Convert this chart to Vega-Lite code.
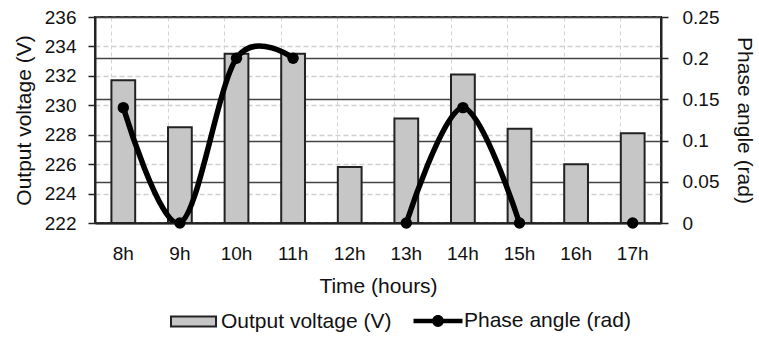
{
  "$schema": "https://vega.github.io/schema/vega-lite/v6.json",
  "autosize": {"type": "none"},
  "width": 566,
  "height": 206,
  "padding": {"left": 95, "top": 17, "right": 98, "bottom": 115},
  "background": "white",
  "config": {
    "font": "Liberation Sans",
    "view": {"stroke": "#222", "strokeWidth": 2},
    "axis": {"labelFont": "Liberation Sans", "titleFont": "Liberation Sans", "labelFontSize": 19, "titleFontSize": 21, "titleFontWeight": "normal", "labelColor": "#111", "titleColor": "#111", "domainColor": "#222", "domainWidth": 2, "tickColor": "#222", "tickWidth": 1.5},
    "legend": {"padding": 0, "labelFont": "Liberation Sans", "labelFontSize": 21, "labelColor": "#111", "labelLimit": 400}
  },
  "data": {"values": [
    {"hour": "8h", "voltage": 231.7, "phase": 0.14, "seg": "A"},
    {"hour": "9h", "voltage": 228.5, "phase": 0, "seg": "A"},
    {"hour": "10h", "voltage": 233.5, "phase": 0.2, "seg": "A"},
    {"hour": "11h", "voltage": 233.5, "phase": 0.2, "seg": "A"},
    {"hour": "12h", "voltage": 225.8, "phase": null, "seg": "A"},
    {"hour": "13h", "voltage": 229.1, "phase": 0, "seg": "B"},
    {"hour": "14h", "voltage": 232.1, "phase": 0.14, "seg": "B"},
    {"hour": "15h", "voltage": 228.4, "phase": 0, "seg": "B"},
    {"hour": "16h", "voltage": 226.0, "phase": null, "seg": "B"},
    {"hour": "17h", "voltage": 228.1, "phase": 0, "seg": "C"}
  ]},
  "encoding": {
    "x": {"field": "hour", "type": "nominal", "sort": null,
      "scale": {"paddingInner": 0.58, "paddingOuter": 0.29},
      "axis": {"title": "Time (hours)", "labelAngle": 0, "ticks": false, "labelPadding": 21, "titlePadding": 12,
        "grid": true, "gridColor": "#d4d4d4", "gridDash": [4, 3], "bandPosition": 0}}
  },
  "layer": [
    {
      "mark": {"type": "bar", "fill": "#c6c6c6", "stroke": "#222", "strokeWidth": 2},
      "encoding": {
        "y": {"field": "voltage", "type": "quantitative",
          "scale": {"domain": [222, 236], "zero": false, "nice": false},
          "axis": {"title": "Output voltage (V)", "values": [222, 224, 226, 228, 230, 232, 234, 236], "tickSize": 7, "labelPadding": 12, "titlePadding": 10,
            "grid": true, "gridColor": "#cfcfcf", "gridDash": [5, 3], "gridWidth": 1.5}},
        "y2": {"datum": 222},
        "color": {"datum": "Output voltage (V)", "type": "nominal",
          "scale": {"domain": ["Output voltage (V)"], "range": ["#c6c6c6"]},
          "legend": {"title": null, "orient": "none", "legendX": 75, "legendY": 281, "direction": "horizontal",
            "labelOffset": 4, "symbolSize": 2025, "symbolType": "M-1,-0.22H1V0.22H-1Z",
            "symbolFillColor": "#c6c6c6", "symbolStrokeColor": "#222", "symbolStrokeWidth": 2}}
      }
    },
    {
      "encoding": {
        "y": {"field": "phase", "type": "quantitative",
          "scale": {"domain": [0, 0.25], "nice": false},
          "axis": {"orient": "right", "title": "Phase angle (rad)", "values": [0, 0.05, 0.1, 0.15, 0.2, 0.25], "format": "~g",
            "tickSize": 7, "labelPadding": 14, "titlePadding": 15,
            "grid": true, "gridColor": "#444", "gridWidth": 1.5}}
      },
      "layer": [
        {"mark": {"type": "line", "color": "#000", "strokeWidth": 5.5, "interpolate": "cardinal", "clip": true},
         "encoding": {"detail": {"field": "seg"}}},
        {"mark": {"type": "point", "filled": true, "color": "#000", "size": 130, "opacity": 1},
         "encoding": {
           "opacity": {"datum": "Phase angle (rad)", "type": "nominal",
             "scale": {"domain": ["Phase angle (rad)"], "range": [1]},
             "legend": {"title": null, "orient": "none", "legendX": 318, "legendY": 279, "direction": "horizontal",
               "labelOffset": 1, "symbolSize": 2401,
               "symbolType": "M-1,-0.09H1V0.09H-1Z M-0.24,0 A0.24,0.24 0 1,1 0.24,0 A0.24,0.24 0 1,1 -0.24,0 Z",
               "symbolFillColor": "#000", "symbolStrokeColor": "#000", "symbolStrokeWidth": 0.5, "symbolOpacity": 1}}
         }}
      ]
    }
  ],
  "resolve": {"scale": {"y": "independent"}}
}
